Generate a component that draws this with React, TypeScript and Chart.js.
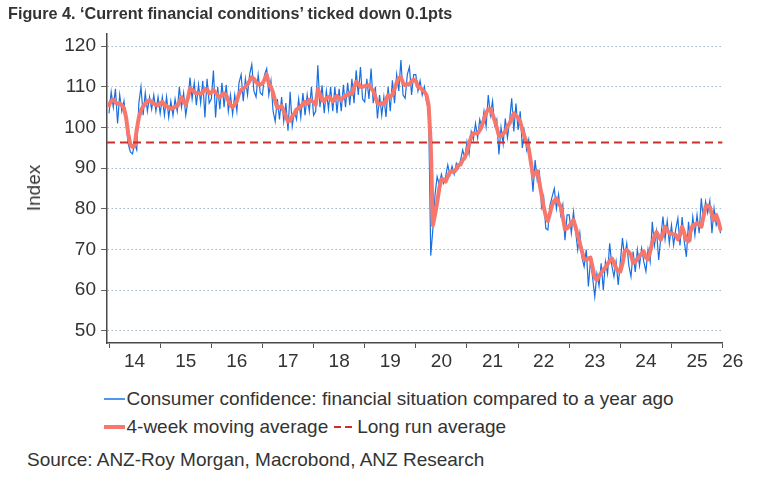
import React, { useEffect, useRef } from "react";
import { Chart, registerables } from "chart.js";

Chart.register(...registerables);

// Years covered (each year holds 24 half-monthly readings)
const years = [2014, 2015, 2016, 2017, 2018, 2019, 2020, 2021, 2022, 2023, 2024, 2025];

// Consumer confidence: financial situation compared to a year ago
const fin2014 = [103.5,108.8,105,109.5,101,108,104,106.5,101,96,94,93.5,96,94.5,106,110,103,108.5,104,107.5,104.5,108,104,107.5];
const fin2015 = [103.5,107.5,103,107.5,102.5,106.5,103,107,104,110,105,108.5,103,106.5,112.3,107,111,105.5,110.5,106,111.5,102.5,112,106];
const fin2016 = [107,114,102.5,110,104.5,111,105,110.5,104,108,103.3,108,104,111,113,106.5,112,108,113,115.5,109,107.5,113,108.5];
const fin2017 = [108,113,114.5,108,111.5,104,101.5,107,102,107.5,101.5,106,99.2,108.8,100.4,104,102,107,102.5,108.5,103,108,104,110];
const fin2018 = [103,104,115.3,105,110.4,103.5,109,104.5,110,104,110,103.5,109.5,104,110.5,105,111,105.5,112,106,114.1,108,114.9,107];
const fin2019 = [106.3,112,107,114.5,106,110,102.2,108,103,107.5,102.6,110,104,111.6,106,113,109,116.6,108,107.2,113,114.9,108,113];
const fin2020 = [113,109,111.5,108,110,106.3,104.3,68.5,75,83.4,87.9,86,88.5,86.3,88,90.8,88.3,90.5,88.5,91.2,90,92,94.5,92.5];
const fin2021 = [96.5,93.5,99,97,101,97.5,102,100,104,100.2,108,103,106.5,100.5,102,93.4,100,96,102.2,97.5,101.5,107.2,99,105.9];
const fin2022 = [99.4,104,95,99,94.5,97,91,84.2,92,87,89,80.5,83,75.2,74.8,81,83,85,80,83.5,78.5,81,72.3,78.5];
const fin2023 = [78.5,74,79.3,74.5,69.9,74,68,65.8,70,60.9,67.4,63,58.4,64,61,66.6,60,67,64,71.5,66,63.3,67,61.3];
const fin2024 = [67,72.8,68,71.5,66,63.3,69.5,64.5,70,66,70.3,67,64.6,70,67,76.8,71,74.5,67.4,73,78.1,72.5,77,71.5];
const fin2025 = [76,71.1,75,77.7,71,78,72,68.2,76.8,72,78,73.5,78.5,74,82.6,77,81.8,79,82,74,80.1,76,77.5,74];

// 4-week moving average
const ma2014 = [105.5,106.6,106.8,106.2,105.8,106.0,105.5,104.8,102.5,98.5,95.8,95.2,95.6,99.5,102.5,104.2,105.2,105.8,106.4,106.7,106.2,105.9,105.6,105.5];
const ma2015 = [106.0,106.3,105.5,105.3,104.9,104.6,104.8,105.1,105.2,106.3,107.4,106.4,105.6,107.2,109.6,109.3,108.8,108.4,108.4,108.4,108.6,109.5,109.4,108.4];
const ma2016 = [108.6,109.2,108.6,107.9,107.5,108.0,108.4,108.0,106.6,105.5,105.0,105.6,106.5,108.3,109.2,109.6,110.0,110.6,111.5,112.4,112.0,111.2,110.6,110.6];
const ma2017 = [110.8,111.8,113.0,110.8,110.0,108.5,106.5,104.8,105.0,105.3,104.0,102.8,101.5,101.7,102.8,103.4,104.4,104.8,105.1,105.8,106.3,105.9,106.8,106.6];
const ma2018 = [106.3,105.6,109.4,108.2,106.7,106.5,107.2,107.5,107.2,106.4,107.0,107.8,107.2,106.7,107.5,107.9,108.0,108.6,108.2,109.8,111.2,110.8,110.0,110.0];
const ma2019 = [110.2,110.3,110.4,109.7,109.0,107.5,106.0,105.6,106.0,105.7,106.8,108.0,107.6,108.0,109.5,111.0,112.2,112.3,111.0,110.4,110.7,110.6,111.3,111.8];
const ma2020 = [111.5,110.0,109.8,109.3,108.8,108.0,105.5,96.0,76.0,78.5,81.5,85.0,87.3,87.2,86.7,88.0,89.0,89.2,89.1,89.8,90.8,90.9,92.0,92.6];
const ma2021 = [94.0,96.0,97.8,98.6,98.6,98.6,99.3,100.4,102.0,103.6,104.5,104.6,103.2,101.8,100.0,98.0,97.8,98.6,98.9,100.3,101.0,102.3,103.5,102.8];
const ma2022 = [102.5,101.4,99.5,97.8,96.5,94.8,91.5,88.0,88.8,89.3,86.5,83.5,80.5,78.2,77.0,79.0,81.0,82.0,82.6,81.5,80.6,78.0,75.0,75.2];
const ma2023 = [75.8,76.5,77.3,75.5,73.5,71.5,69.5,67.6,67.4,67.8,68.0,65.5,63.0,62.5,63.5,64.2,65.0,65.6,66.4,67.2,67.8,66.8,65.4,64.8];
const ma2024 = [64.6,66.5,69.5,69.9,69.4,68.6,66.7,66.9,67.8,68.3,69.0,69.5,68.0,67.6,69.5,71.8,73.2,74.3,73.2,72.4,73.8,75.6,74.8,74.0];
const ma2025 = [73.9,73.7,73.6,72.5,73.5,75.6,74.0,72.3,72.0,74.5,76.0,76.2,76.4,76.0,75.6,78.0,80.5,80.8,80.5,78.5,77.3,78.5,77.0,75.0];

// Long run average
const longRunAverage = 96.3;

// Axis ticks and labels
const yTicks = [50, 60, 70, 80, 90, 100, 110, 120];
const xTickYears = [2014, 2015, 2016, 2017, 2018, 2019, 2020, 2021, 2022, 2023, 2024, 2025, 2026];
const xTickLabels = ["14", "15", "16", "17", "18", "19", "20", "21", "22", "23", "24", "25", "26"];

const finRows = [fin2014, fin2015, fin2016, fin2017, fin2018, fin2019, fin2020, fin2021, fin2022, fin2023, fin2024, fin2025];
const maRows = [ma2014, ma2015, ma2016, ma2017, ma2018, ma2019, ma2020, ma2021, ma2022, ma2023, ma2024, ma2025];

function toPoints(rows: number[][]) {
  const pts: { x: number; y: number }[] = [];
  rows.forEach((row, yi) => {
    row.forEach((v, k) => pts.push({ x: years[yi] + k / row.length, y: v }));
  });
  return pts;
}

const FONT = '"Liberation Sans", Arial, Helvetica, sans-serif';
const TEXT = "#333333";
const BLUE = "#1a6fe0";
const SALMON = "#f7776c";
const DASHRED = "#c9302c";

const X_MIN = 2013.96;
const X_MAX = 2026;

const yearLabelPlugin = {
  id: "yearLabels",
  afterDraw(chart: any) {
    const xs = chart.scales.x;
    const ctx = chart.ctx;
    ctx.save();
    ctx.font = `19px ${FONT}`;
    ctx.fillStyle = TEXT;
    ctx.textAlign = "center";
    ctx.textBaseline = "middle";
    xTickLabels.forEach((lab, i) => {
      const yr = xTickYears[i];
      const pos = yr < 2026 ? yr + 0.5 : yr + 0.2;
      ctx.fillText(lab, xs.getPixelForValue(pos), 362);
    });
    ctx.restore();
  },
};

export default function App() {
  const canvasRef = useRef<HTMLCanvasElement | null>(null);

  useEffect(() => {
    if (!canvasRef.current) return;
    const chart = new Chart(canvasRef.current, {
      type: "line",
      data: {
        datasets: [
          {
            label: "Long run average",
            data: [
              { x: X_MIN, y: longRunAverage },
              { x: X_MAX, y: longRunAverage },
            ],
            borderColor: DASHRED,
            borderWidth: 2,
            borderDash: [8, 5],
            pointRadius: 0,
            order: 0,
          },
          {
            label: "4-week moving average",
            data: toPoints(maRows),
            borderColor: SALMON,
            borderWidth: 4,
            pointRadius: 0,
            borderJoinStyle: "round",
            borderCapStyle: "round",
            order: 1,
          },
          {
            label: "Consumer confidence: financial situation compared to a year ago",
            data: toPoints(finRows),
            borderColor: BLUE,
            borderWidth: 1.2,
            pointRadius: 0,
            order: 2,
          },
        ],
      },
      options: {
        responsive: false,
        animation: false,
        layout: { padding: { left: 0, right: 34.4, top: 34, bottom: 0 } },
        plugins: {
          legend: { display: false },
          tooltip: { enabled: false },
          title: { display: false },
        },
        scales: {
          x: {
            type: "linear",
            min: X_MIN,
            max: X_MAX,
            afterBuildTicks: (scale: any) => {
              scale.ticks = xTickYears.map((v) => ({ value: v }));
            },
            afterFit: (scale: any) => {
              scale.height = 32;
            },
            ticks: { display: false },
            grid: {
              drawOnChartArea: false,
              drawTicks: true,
              tickLength: 5,
              tickColor: "#555555",
              tickWidth: 1,
              color: "#555555",
            },
            border: { color: "#4a4a4a", width: 1.5 },
          },
          y: {
            type: "linear",
            min: 47,
            max: 123,
            afterBuildTicks: (scale: any) => {
              scale.ticks = yTicks.map((v) => ({ value: v }));
            },
            afterFit: (scale: any) => {
              scale.width = 107;
            },
            ticks: {
              color: TEXT,
              font: { family: FONT, size: 19 },
              padding: 5,
            },
            grid: {
              color: "rgba(160,175,190,0.9)",
              lineWidth: 1,
              drawTicks: true,
              tickLength: 6,
              tickColor: "#666666",
              tickWidth: 1,
              tickBorderDash: [],
            },
            border: { color: "#4a4a4a", width: 1.5, dash: [1.5, 2.5] },
          },
        },
      },
      plugins: [yearLabelPlugin],
    } as any);
    return () => chart.destroy();
  }, []);

  const textStyle: React.CSSProperties = {
    fontFamily: FONT,
    fontSize: 19,
    lineHeight: "22px",
    color: TEXT,
    whiteSpace: "nowrap",
  };

  return (
    <div
      style={{
        position: "absolute",
        left: 0,
        top: 0,
        width: 757,
        height: 482,
        overflow: "hidden",
        background: "#ffffff",
      }}
    >
      <canvas
        ref={canvasRef}
        width={757}
        height={375}
        style={{ position: "absolute", left: 0, top: 0, width: 757, height: 375, display: "block" }}
      />
      <div
        style={{
          position: "absolute",
          left: 8,
          top: 3,
          fontFamily: FONT,
          fontWeight: "bold",
          fontSize: 16.2,
          lineHeight: "20px",
          color: TEXT,
          whiteSpace: "nowrap",
        }}
      >
        Figure 4. ‘Current financial conditions’ ticked down 0.1pts
      </div>
      <div
        style={{
          position: "absolute",
          left: 34,
          top: 188,
          transform: "translate(-50%, -50%) rotate(-90deg)",
          ...textStyle,
        }}
      >
        Index
      </div>
      <div style={{ position: "absolute", left: 104, top: 387.5, display: "flex", alignItems: "center", ...textStyle }}>
        <span style={{ display: "inline-block", width: 21, height: 2, background: "#4f97ee", marginRight: 1.5 }} />
        <span>Consumer confidence: financial situation compared to a year ago</span>
      </div>
      <div style={{ position: "absolute", left: 104, top: 415.5, display: "flex", alignItems: "center", ...textStyle }}>
        <span style={{ display: "inline-block", width: 21, height: 4, background: SALMON, marginRight: 1.5 }} />
        <span>4-week moving average</span>
        <span style={{ display: "inline-flex", marginLeft: 6, marginRight: 5 }}>
          <span style={{ display: "inline-block", width: 7, height: 2, background: DASHRED, marginRight: 4 }} />
          <span style={{ display: "inline-block", width: 7, height: 2, background: DASHRED }} />
        </span>
        <span>Long run average</span>
      </div>
      <div style={{ position: "absolute", left: 27, top: 449, ...textStyle }}>
        Source: ANZ-Roy Morgan, Macrobond, ANZ Research
      </div>
    </div>
  );
}
